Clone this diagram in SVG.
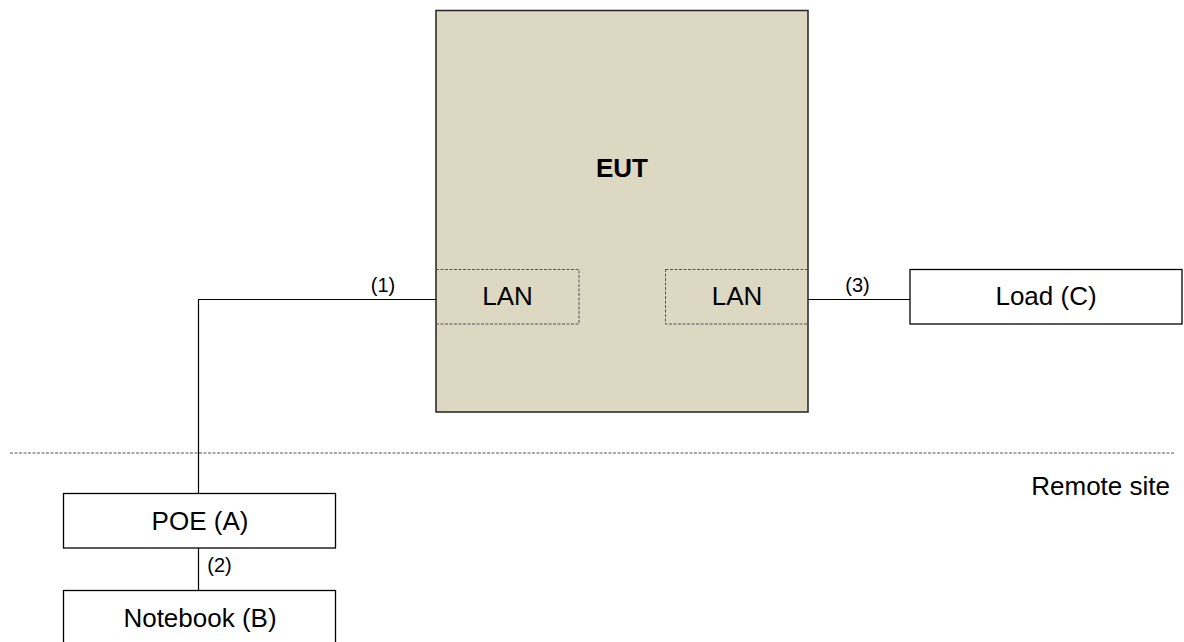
<svg xmlns="http://www.w3.org/2000/svg" width="1184" height="642" viewBox="0 0 1184 642">
<style>
.box{fill:#ffffff;stroke:#000000;stroke-width:1.3}
.lan{fill:none;stroke:#555555;stroke-width:1;stroke-dasharray:3,1.5}
.t{font-family:"Liberation Sans",Arial,sans-serif;font-size:26px;fill:#000000}
.s{font-family:"Liberation Sans",Arial,sans-serif;font-size:20px;fill:#000000}
.c{text-anchor:middle}
.wire{fill:none;stroke:#000000;stroke-width:1.2}
</style>
<rect width="1184" height="642" fill="#ffffff"/>
<line x1="10" y1="453" x2="1175" y2="453" stroke="#555555" stroke-width="1" stroke-dasharray="3,1.5"/>
<text class="t" x="1170" y="494.5" text-anchor="end">Remote site</text>
<g id="eut">
<rect x="436" y="10.5" width="372" height="401.5" fill="#DDD8C2" stroke="#222222" stroke-width="1.5"/>
<text class="t c" x="622" y="177" font-weight="bold" font-size="28">EUT</text>
</g>
<g id="lan1">
<rect class="lan" x="436" y="269.5" width="143" height="54.5"/>
<text class="t c" x="507.5" y="305">LAN</text>
</g>
<g id="lan2">
<rect class="lan" x="665.5" y="269.5" width="142.5" height="54.5"/>
<text class="t c" x="737" y="305">LAN</text>
</g>
<g id="load">
<rect class="box" x="910" y="269.5" width="272" height="54.5"/>
<text class="t c" x="1046" y="305">Load (C)</text>
</g>
<g id="poe">
<rect class="box" x="63.5" y="493.5" width="272" height="54.5"/>
<text class="t c" x="200" y="530">POE (A)</text>
</g>
<g id="notebook">
<rect class="box" x="63.5" y="590.5" width="272" height="70"/>
<text class="t c" x="200" y="626.5">Notebook (B)</text>
</g>
<g id="connectors">
<polyline class="wire" points="436,299.5 198.5,299.5 198.5,493.5"/>
<line class="wire" x1="808" y1="299.5" x2="910" y2="299.5"/>
<line class="wire" x1="198.5" y1="548" x2="198.5" y2="590.5"/>
<text class="s" x="383" y="292" text-anchor="middle">(1)</text>
<text class="s" x="857.5" y="292" text-anchor="middle">(3)</text>
<text class="s" x="219.5" y="572" text-anchor="middle">(2)</text>
</g>
</svg>
